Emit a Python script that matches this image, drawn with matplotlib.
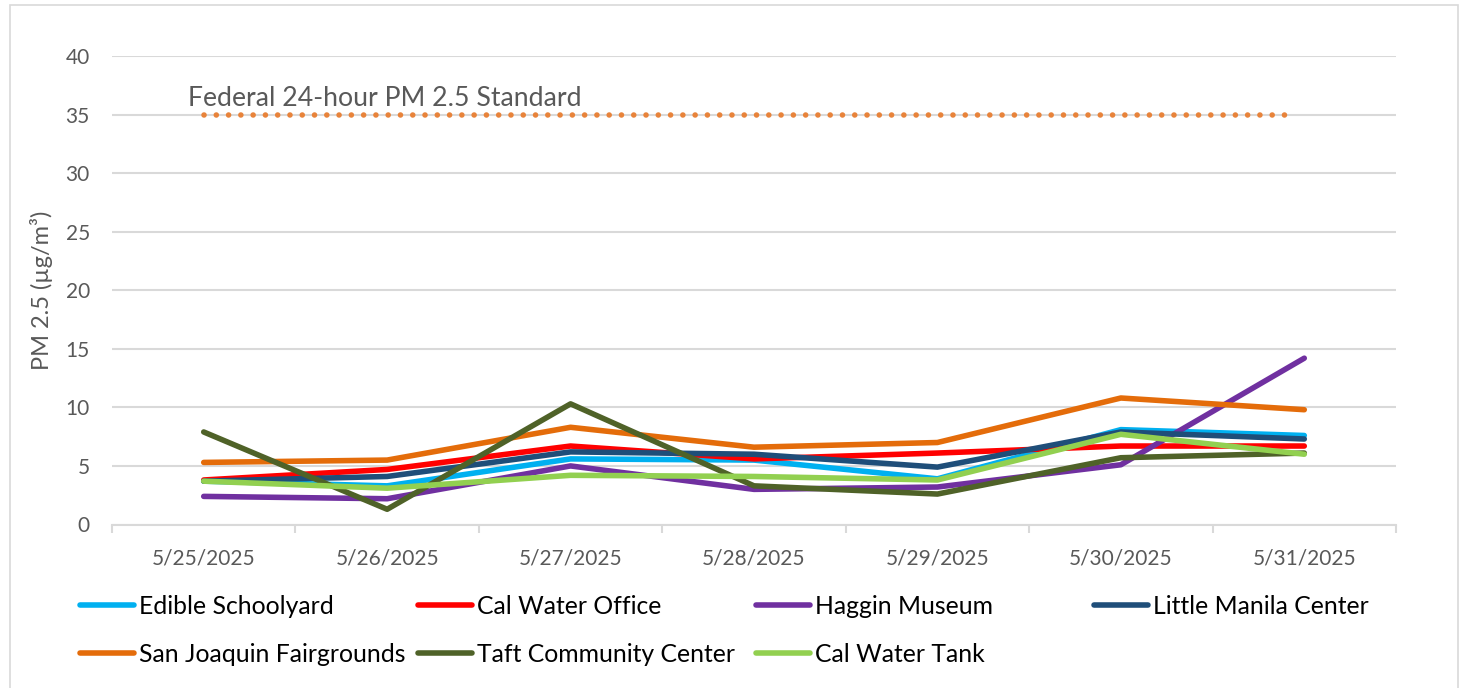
import matplotlib
matplotlib.use("Agg")
import matplotlib.pyplot as plt
from matplotlib.patches import Rectangle

dates = ["5/25/2025", "5/26/2025", "5/27/2025", "5/28/2025", "5/29/2025", "5/30/2025", "5/31/2025"]
edible_schoolyard = [3.7, 3.3, 5.6, 5.5, 3.9, 8.1, 7.6]
cal_water_office = [3.8, 4.7, 6.7, 5.6, 6.1, 6.7, 6.7]
haggin_museum = [2.4, 2.2, 5.0, 3.0, 3.2, 5.1, 14.2]
little_manila_center = [3.7, 4.1, 6.2, 6.0, 4.9, 7.9, 7.3]
san_joaquin_fairgrounds = [5.3, 5.5, 8.3, 6.6, 7.0, 10.8, 9.8]
taft_community_center = [7.9, 1.3, 10.3, 3.3, 2.6, 5.7, 6.1]
cal_water_tank = [3.7, 3.1, 4.2, 4.1, 3.8, 7.7, 6.0]
standard_value = 35
standard_label = "Federal 24-hour PM 2.5 Standard"
y_ticks = [0, 5, 10, 15, 20, 25, 30, 35, 40]

series = [
    ("Edible Schoolyard", edible_schoolyard, "#00B0F0"),
    ("Cal Water Office", cal_water_office, "#FF0000"),
    ("Haggin Museum", haggin_museum, "#7030A0"),
    ("Little Manila Center", little_manila_center, "#1F4E79"),
    ("San Joaquin Fairgrounds", san_joaquin_fairgrounds, "#E46C0A"),
    ("Taft Community Center", taft_community_center, "#4F6228"),
    ("Cal Water Tank", cal_water_tank, "#92D050"),
]

plt.rcParams['font.family'] = ['Lato', 'DejaVu Sans']
W, H = 1463, 688
fig = plt.figure(figsize=(W / 100, H / 100), dpi=100)

# outer chart border
fig.patches.append(Rectangle((10 / W, -0.02), (1458 - 10) / W, 1 - 5 / H + 0.02,
                             transform=fig.transFigure, fill=False,
                             edgecolor="#D9D9D9", linewidth=1.2))

ax = fig.add_axes([112 / W, 1 - 524.5 / H, (1396 - 112) / W, (524.5 - 56) / H])
x = list(range(len(dates)))

handles = []
for i, (name, vals, col) in enumerate(series):
    ln, = ax.plot(x, vals, color=col, lw=4.0, solid_capstyle='round',
                  solid_joinstyle='round', label=name, zorder=3 + i)
    handles.append(ln)

# standard line (dotted)
ax.plot([0, 5.955], [standard_value, standard_value], color="#E8833A", lw=4.0,
        linestyle=(0, (0.01, 2.2)), dash_capstyle='round', zorder=3)
ax.text(-0.087, standard_value + 0.3, standard_label, ha='left', va='bottom',
        fontsize=19.2, color="#595959")

ax.set_xlim(-0.5, len(dates) - 0.5)
ax.set_ylim(0, 40)
ax.set_yticks(y_ticks)
ax.set_xticks(x)
ax.set_xticklabels(dates)
ax.set_xticks([i - 0.5 for i in range(len(dates) + 1)], minor=True)
ax.tick_params(axis='x', which='major', length=0, pad=17, labelsize=15, labelcolor="#595959")
ax.tick_params(axis='x', which='minor', length=6, width=1.5, color="#D9D9D9")
ax.tick_params(axis='y', length=0, pad=16, labelsize=15, labelcolor="#595959")
ax.grid(axis='y', color="#D9D9D9", lw=1.5, zorder=0)
ax.set_axisbelow(True)
for s in ['top', 'right', 'left']:
    ax.spines[s].set_visible(False)
ax.spines['bottom'].set_color("#D9D9D9")
ax.spines['bottom'].set_linewidth(1.5)

ax.set_ylabel("PM 2.5 (µg/m³)", fontsize=17, color="#595959")
ax.yaxis.set_label_coords(-0.046, 0.5)

# legend: 4 columns, placed at equal spacing
col_x = [80, 418, 756, 1094]
ncol = 4
for c in range(ncol):
    hs = handles[c::ncol]
    leg = fig.legend(handles=hs, labels=[h.get_label() for h in hs],
                     loc='upper left', bbox_to_anchor=(col_x[c] / W, 1 - 595 / H),
                     frameon=False, fontsize=17.8, handlelength=2.2, handletextpad=0.2,
                     borderpad=0, borderaxespad=0, labelspacing=1.0)
    for t in leg.get_texts():
        t.set_color("black")

fig.savefig("out.png", dpi=100)
